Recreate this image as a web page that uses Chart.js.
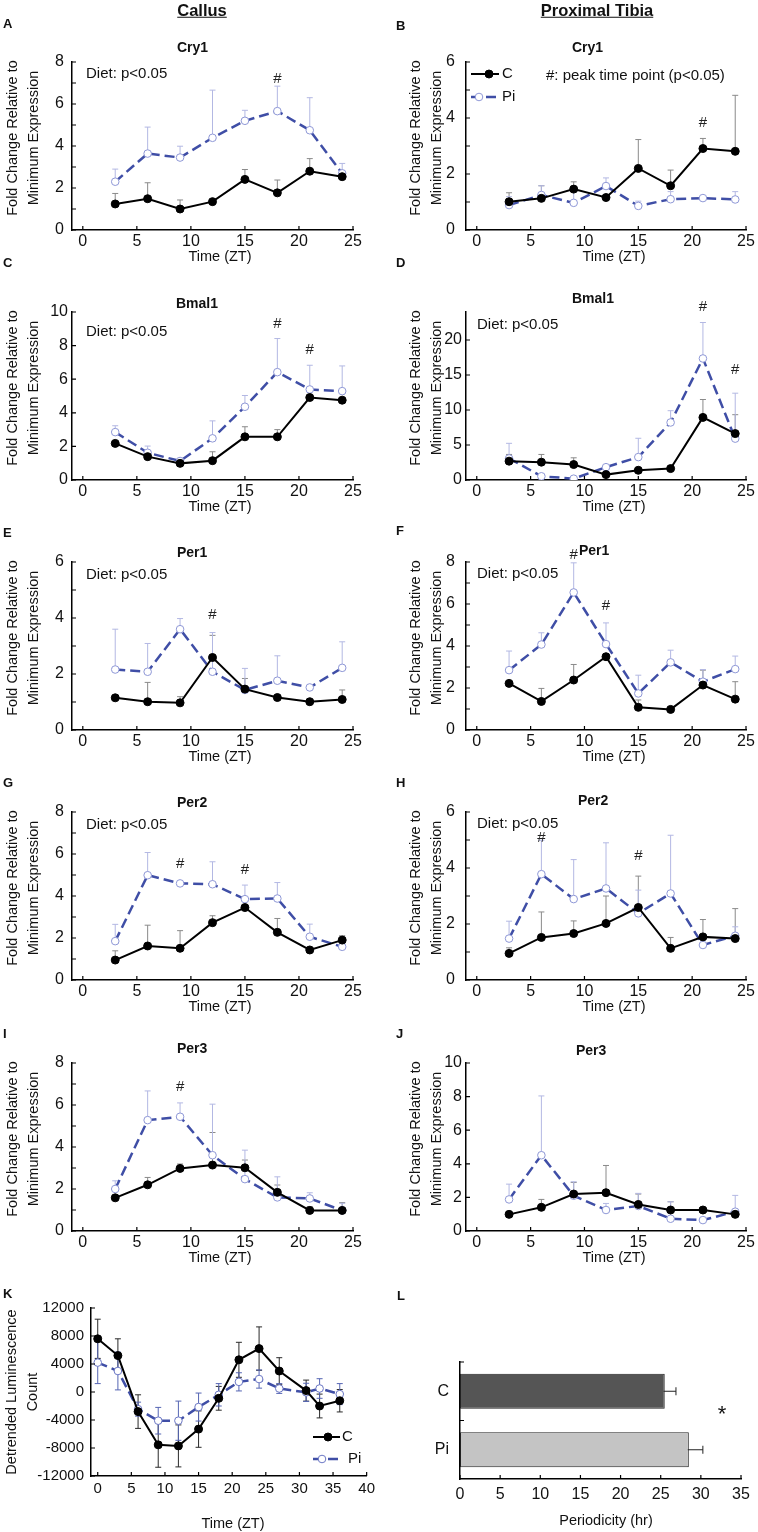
<!DOCTYPE html>
<html>
<head>
<meta charset="utf-8">
<script src="https://cdn.jsdelivr.net/npm/chart.js@4.4.0/dist/chart.umd.min.js"></script>
<style>
  body { margin: 0; background: #fff; width: 758px; height: 1532px; position: relative; overflow: hidden;
         font-family: Arial, "Liberation Sans", Helvetica, sans-serif; color: #111; }
  canvas { position: absolute; }
  .t { position: absolute; white-space: nowrap; line-height: 1; }
  .yt { position: absolute; white-space: nowrap; line-height: 21px; text-align: center; font-size: 14.5px; }
</style>
</head>
<body>
<script>
// ------------------------------------------------------
// data
// ------------------------------------------------------
const times = [3, 6, 9, 12, 15, 18, 21, 24];
const timeTicks = [0, 5, 10, 15, 20, 25];
const ticks6 = [0, 2, 4, 6];
const ticks8 = [0, 2, 4, 6, 8];
const ticks10 = [0, 2, 4, 6, 8, 10];
const ticks24 = [0, 5, 10, 15, 20];
const minor6 = [1, 3, 5];
const minor8 = [1, 3, 5, 7];

// A - Callus Cry1
const aC   = [1.24, 1.49, 1.0, 1.35, 2.41, 1.77, 2.8, 2.54];
const aCe  = [0.5, 0.76, 0.43, 0.1, 0.47, 0.61, 0.6, 0.1];
const aPi  = [2.3, 3.64, 3.45, 4.39, 5.2, 5.66, 4.75, 2.7];
const aPie = [0.6, 1.26, 0.54, 2.27, 0.5, 1.19, 1.55, 0.47];
const aHash = [[18, 7.2]];
// B - Proximal tibia Cry1
const bC   = [1.01, 1.13, 1.46, 1.16, 2.2, 1.58, 2.91, 2.81];
const bCe  = [0.32, 0.45, 0.26, 0.05, 1.03, 0.56, 0.36, 2.0];
const bPi  = [0.89, 1.25, 0.97, 1.57, 0.86, 1.1, 1.14, 1.09];
const bPie = [0.3, 0.33, 0.4, 0.29, 0.17, 0.27, 0.05, 0.28];
const bHash = [[21, 3.82]];
// C - Callus Bmal1
const cC   = [2.18, 1.39, 0.99, 1.15, 2.57, 2.57, 4.91, 4.75];
const cCe  = [0.1, 0.29, 0.1, 0.53, 0.6, 0.43, 0.1, 0.1];
const cPi  = [2.85, 1.62, 1.13, 2.48, 4.36, 6.42, 5.39, 5.29];
const cPie = [0.38, 0.4, 0.1, 1.04, 0.67, 2.0, 1.44, 1.5];
const cHash = [[18, 9.3], [21, 7.72]];
// D - Proximal tibia Bmal1
const dC   = [2.69, 2.55, 2.21, 0.77, 1.39, 1.63, 8.94, 6.63];
const dCe  = [0.96, 1.1, 0.96, 0.2, 0.2, 0.2, 2.56, 2.7];
const dPi  = [3.08, 0.53, 0.19, 1.83, 3.27, 8.22, 17.36, 5.91];
const dPie = [2.16, 0.2, 0.2, 0.2, 2.69, 1.68, 5.14, 6.49];
const dHash = [[21, 24.8], [24, 15.8]];
// E - Callus Per1
const eC   = [1.15, 1.01, 0.97, 2.59, 1.46, 1.16, 1.01, 1.09];
const eCe  = [0.05, 0.69, 0.22, 0.79, 0.38, 0.05, 0.05, 0.34];
const ePi  = [2.16, 2.08, 3.6, 2.08, 1.43, 1.76, 1.52, 2.22];
const ePie = [1.44, 1.01, 0.38, 1.4, 0.77, 0.89, 0.05, 0.93];
const eHash = [[12, 4.1]];
// F - Proximal tibia Per1
const fC   = [2.22, 1.36, 2.38, 3.49, 1.08, 0.98, 2.14, 1.47];
const fCe  = [0.05, 0.62, 0.74, 0.05, 0.35, 0.05, 0.71, 0.83];
const fPi  = [2.85, 4.07, 6.55, 4.09, 1.74, 3.22, 2.3, 2.9];
const fPie = [0.91, 0.56, 1.41, 1.01, 0.87, 0.58, 0.58, 0.62];
const fHash = [[9, 8.32], [12, 5.9]];
// G - Callus Per2
const gC   = [0.95, 1.62, 1.51, 2.73, 3.45, 2.27, 1.43, 1.9];
const gCe  = [0.44, 0.99, 0.84, 0.33, 0.05, 0.66, 0.05, 0.21];
const gPi  = [1.85, 4.99, 4.6, 4.56, 3.85, 3.88, 2.06, 1.58];
const gPie = [0.8, 1.08, 0.05, 1.07, 0.67, 0.76, 0.6, 0.05];
const gHash = [[9, 5.55], [15, 5.23]];
// H - Proximal tibia Per2
const hC   = [0.95, 1.52, 1.66, 2.02, 2.59, 1.13, 1.54, 1.48];
const hCe  = [0.2, 0.91, 0.45, 0.98, 1.12, 0.39, 0.62, 1.07];
const hPi  = [1.48, 3.78, 2.89, 3.27, 2.38, 3.09, 1.25, 1.58];
const hPie = [0.62, 1.21, 1.41, 1.63, 0.83, 2.08, 0.05, 0.32];
const hHash = [[6, 5.08], [15, 4.42]];
// I - Callus Per3
const iC   = [1.58, 2.2, 2.98, 3.14, 3.01, 1.84, 0.98, 0.98];
const iCe  = [0.05, 0.35, 0.21, 1.55, 0.37, 0.35, 0.18, 0.37];
const iPi  = [2.0, 5.28, 5.44, 3.61, 2.47, 1.6, 1.55, 0.98];
const iPie = [0.39, 1.39, 0.66, 2.43, 1.38, 0.98, 0.27, 0.34];
const iHash = [[9, 6.86]];
// J - Proximal tibia Per3
const jC   = [0.99, 1.41, 2.2, 2.28, 1.58, 1.25, 1.25, 0.99];
const jCe  = [0.16, 0.47, 0.69, 1.62, 0.62, 0.49, 0.05, 0.05];
const jPi  = [1.88, 4.51, 2.1, 1.25, 1.49, 0.73, 0.65, 1.15];
const jPie = [0.91, 3.53, 0.83, 0.39, 0.75, 1.01, 0.05, 0.97];

// K - detrended luminescence
const kTimes = [0, 3, 6, 9, 12, 15, 18, 21, 24, 27, 31, 33, 36];
const kC   = [7600, 5200, -2800, -7550, -7700, -5300, -900, 4600, 6200, 3000, 200, -2000, -1250];
const kCe  = [2800, 2400, 2400, 3200, 3000, 2600, 1700, 2500, 3100, 1900, 1500, 1700, 1600];
const kPi  = [4200, 3000, -2450, -4100, -4100, -2150, -400, 1450, 1850, 500, -50, 500, -300];
const kPie = [3000, 2700, 1000, 1900, 2800, 2000, 1600, 1300, 1300, 700, 1300, 1400, 1500];
const kXTicks = [0, 5, 10, 15, 20, 25, 30, 35, 40];
const kYTicks = [-12000, -8000, -4000, 0, 4000, 8000, 12000];

// L - periodicity
const lCats = ['C', 'Pi'];
const lVals = [25.5, 28.5];
const lErr  = [1.4, 1.75];
const lXTicks = [0, 5, 10, 15, 20, 25, 30, 35];

// ------------------------------------------------------
// helpers
// ------------------------------------------------------
Chart.defaults.font.family = 'Arial, "Liberation Sans", Helvetica, sans-serif';
Chart.defaults.color = '#111';
Chart.defaults.animation = false;

const PI_LINE = '#3f4ea6';
const PI_MARK = '#8e97d6';
const C_ERR = '#8a8a8a';
const PI_ERR = '#b3b8e3';

const COL_X = [0, 379];
const ROW_Y = [0, 250, 500, 750, 1001];
const extras = {};

function addText(str, x, y, o = {}) {
  const d = document.createElement('div');
  d.className = 't';
  d.textContent = str;
  d.style.left = x + 'px';
  d.style.top = y + 'px';
  d.style.fontSize = (o.size || 15) + 'px';
  if (o.bold) d.style.fontWeight = 'bold';
  if (o.underline) d.style.textDecoration = 'underline';
  d.style.transform = 'translate(' + (o.center ? '-50%' : '0') + ',-50%)';
  document.body.appendChild(d);
}

function addYTitle(lines, x, y) {
  const d = document.createElement('div');
  d.className = 'yt';
  d.innerHTML = lines.join('<br>');
  d.style.left = x + 'px';
  d.style.top = y + 'px';
  d.style.transform = 'translate(-50%,-50%) rotate(-90deg)';
  document.body.appendChild(d);
}

function makeCanvas(id, left, top, w, h) {
  const c = document.createElement('canvas');
  c.id = id;
  c.width = w;
  c.height = h;
  c.style.left = left + 'px';
  c.style.top = top + 'px';
  c.style.width = w + 'px';
  c.style.height = h + 'px';
  document.body.appendChild(c);
  return c;
}

function axis(min, max, tickVals, size, fontSize, pad, horiz) {
  return {
    type: 'linear', min, max,
    grid: { display: false, drawTicks: false },
    border: { display: true, color: '#000', width: 1.5 },
    ticks: { font: { size: fontSize }, padding: pad, maxRotation: 0, autoSkip: false, callback: v => String(v) },
    afterBuildTicks: s => { s.ticks = tickVals.map(v => ({ value: v })); },
    afterFit: s => { if (horiz) s.height = size; else s.width = size; },
  };
}

function series(xs, ys, errs, isPi, k) {
  return {
    data: xs.map((x, i) => ({ x, y: ys[i] })),
    errors: errs,
    symmetric: !!k,
    errColor: isPi ? (k ? '#5565b3' : PI_ERR) : (k ? '#2a2a2a' : C_ERR),
    borderColor: isPi ? PI_LINE : '#000',
    borderWidth: isPi ? 2.5 : 2,
    borderDash: isPi ? [10, 5] : [],
    pointRadius: isPi ? 3.8 : 4,
    pointBackgroundColor: isPi ? '#fff' : '#000',
    pointBorderColor: isPi ? (k ? '#6a76c4' : PI_MARK) : '#000',
    pointBorderWidth: 1,
    tension: 0,
  };
}

// error bars, inward ticks, # marks, legends
const panelMarks = {
  id: 'panelMarks',
  beforeDatasetsDraw(chart) {
    const ctx = chart.ctx;
    const horizBar = chart.options.indexAxis === 'y';
    chart.data.datasets.forEach((ds, i) => {
      if (!ds.errors) return;
      const meta = chart.getDatasetMeta(i);
      ctx.save();
      ctx.strokeStyle = ds.errColor;
      ctx.lineWidth = 1;
      ctx.beginPath();
      ds.errors.forEach((e, j) => {
        if (!e) return;
        if (horizBar) {
          const el = meta.data[j];
          const xs = chart.scales.x;
          const x0 = xs.getPixelForValue(ds.data[j] - e);
          const x1 = xs.getPixelForValue(ds.data[j] + e);
          ctx.moveTo(x0, el.y); ctx.lineTo(x1, el.y);
          ctx.moveTo(x0, el.y - 4); ctx.lineTo(x0, el.y + 4);
          ctx.moveTo(x1, el.y - 4); ctx.lineTo(x1, el.y + 4);
        } else {
          const pt = ds.data[j];
          const px = chart.scales.x.getPixelForValue(pt.x);
          const ys = chart.scales.y;
          const top = ys.getPixelForValue(pt.y + e);
          const bot = ds.symmetric ? ys.getPixelForValue(pt.y - e) : ys.getPixelForValue(pt.y);
          ctx.moveTo(px, bot); ctx.lineTo(px, top);
          ctx.moveTo(px - 3, top); ctx.lineTo(px + 3, top);
          if (ds.symmetric) { ctx.moveTo(px - 3, bot); ctx.lineTo(px + 3, bot); }
        }
      });
      ctx.stroke();
      ctx.restore();
    });
  },
  afterDraw(chart) {
    const ctx = chart.ctx;
    const a = chart.chartArea;
    const ex = extras[chart.canvas.id] || {};
    const xs = chart.scales.x, ys = chart.scales.y;
    ctx.save();
    ctx.strokeStyle = '#000';
    ctx.lineWidth = 1.2;
    ctx.beginPath();
    xs.ticks.forEach(t => {
      const p = xs.getPixelForValue(t.value);
      ctx.moveTo(p, a.bottom); ctx.lineTo(p, a.bottom - 4);
    });
    if (ys.type === 'category') {
      // ticks on category boundaries
      const marks = [a.top];
      for (let i = 1; i < ys.ticks.length; i++) {
        marks.push((ys.getPixelForValue(i - 1) + ys.getPixelForValue(i)) / 2);
      }
      marks.forEach(p => { ctx.moveTo(a.left, p); ctx.lineTo(a.left + 4, p); });
    } else {
      ys.ticks.map(t => t.value).concat(ex.minorY || []).forEach(v => {
        const p = ys.getPixelForValue(v);
        ctx.moveTo(a.left, p); ctx.lineTo(a.left + 4, p);
      });
    }
    ctx.stroke();

    // significance marks
    ctx.fillStyle = '#222';
    ctx.font = '15px Arial, "Liberation Sans", sans-serif';
    ctx.textAlign = 'center';
    ctx.textBaseline = 'middle';
    (ex.hashes || []).forEach(h => {
      ctx.fillText('#', xs.getPixelForValue(h[0]), ys.getPixelForValue(h[1]));
    });

    // legend
    (ex.legend || []).forEach(item => {
      const ds = chart.data.datasets[item.ds];
      ctx.strokeStyle = ds.borderColor;
      ctx.lineWidth = ds.borderWidth;
      ctx.setLineDash(ds.borderDash);
      ctx.beginPath();
      ctx.moveTo(item.x0, item.y); ctx.lineTo(item.x1, item.y);
      ctx.stroke();
      ctx.setLineDash([]);
      ctx.beginPath();
      ctx.arc(item.mx, item.y, ds.pointRadius, 0, Math.PI * 2);
      ctx.fillStyle = ds.pointBackgroundColor;
      ctx.fill();
      ctx.lineWidth = 1;
      ctx.strokeStyle = ds.pointBorderColor;
      ctx.stroke();
      ctx.fillStyle = '#111';
      ctx.textAlign = 'left';
      ctx.font = '15px Arial, "Liberation Sans", sans-serif';
      ctx.fillText(item.label, item.tx, item.y);
    });
    ctx.restore();
  },
};

// ------------------------------------------------------
// @Line panels A-J
// ------------------------------------------------------
function linePanel(p) {
  const W = 379, H = 265;
  const left = p.col ? 87 : 72;
  const right = p.col ? 367 : 353;
  const cv = makeCanvas('panel' + p.id, COL_X[p.col], ROW_Y[p.row], W, H);
  extras[cv.id] = { minorY: p.minor, hashes: p.hashes, legend: p.legend };
  new Chart(cv, {
    type: 'line',
    data: { datasets: [series(times, p.c, p.ce, false), series(times, p.pi, p.pie, true)] },
    options: {
      responsive: false,
      events: [],
      layout: { padding: { left: 0, right: W - right, top: 62, bottom: 0 } },
      plugins: { legend: { display: false }, tooltip: { enabled: false } },
      scales: {
        x: axis(-1, 25, timeTicks, H - 230, 16, 2, true),
        y: axis(0, p.yMax, p.yTicks, left, 16, p.yPad, false),
      },
    },
    plugins: [panelMarks],
  });
}

const panels = [
  { id: 'A', col: 0, row: 0, c: aC, ce: aCe, pi: aPi, pie: aPie, yMax: 8, yTicks: ticks8, minor: minor8, yPad: 8, hashes: aHash },
  { id: 'B', col: 1, row: 0, c: bC, ce: bCe, pi: bPi, pie: bPie, yMax: 6, yTicks: ticks6, minor: minor6, yPad: 11, hashes: bHash,
    legend: [{ ds: 0, label: 'C', x0: 92, x1: 120, mx: 110, tx: 123, y: 74 },
             { ds: 1, label: 'Pi', x0: 92, x1: 118, mx: 100, tx: 123, y: 97 }] },
  { id: 'C', col: 0, row: 1, c: cC, ce: cCe, pi: cPi, pie: cPie, yMax: 10, yTicks: ticks10, minor: [], yPad: 4, hashes: cHash },
  { id: 'D', col: 1, row: 1, c: dC, ce: dCe, pi: dPi, pie: dPie, yMax: 24, yTicks: ticks24, minor: [], yPad: 4, hashes: dHash },
  { id: 'E', col: 0, row: 2, c: eC, ce: eCe, pi: ePi, pie: ePie, yMax: 6, yTicks: ticks6, minor: minor6, yPad: 8, hashes: eHash },
  { id: 'F', col: 1, row: 2, c: fC, ce: fCe, pi: fPi, pie: fPie, yMax: 8, yTicks: ticks8, minor: minor8, yPad: 11, hashes: fHash },
  { id: 'G', col: 0, row: 3, c: gC, ce: gCe, pi: gPi, pie: gPie, yMax: 8, yTicks: ticks8, minor: minor8, yPad: 8, hashes: gHash },
  { id: 'H', col: 1, row: 3, c: hC, ce: hCe, pi: hPi, pie: hPie, yMax: 6, yTicks: ticks6, minor: minor6, yPad: 11, hashes: hHash },
  { id: 'I', col: 0, row: 4, c: iC, ce: iCe, pi: iPi, pie: iPie, yMax: 8, yTicks: ticks8, minor: minor8, yPad: 8, hashes: iHash },
  { id: 'J', col: 1, row: 4, c: jC, ce: jCe, pi: jPi, pie: jPie, yMax: 10, yTicks: ticks10, minor: [], yPad: 4, hashes: [] },
];
panels.forEach(linePanel);

// ------------------------------------------------------
// @K luminescence
// ------------------------------------------------------
const kCanvas = makeCanvas('panelK', 0, 1250, 379, 282);
extras.panelK = {
  legend: [{ ds: 0, label: 'C', x0: 313, x1: 340, mx: 328, tx: 342, y: 187 },
           { ds: 1, label: 'Pi', x0: 313, x1: 338, mx: 322, tx: 348, y: 209 }],
};
new Chart(kCanvas, {
  type: 'line',
  data: { datasets: [series(kTimes, kC, kCe, false, true), series(kTimes, kPi, kPie, true, true)] },
  options: {
    responsive: false,
    events: [],
    layout: { padding: { left: 0, right: 12, top: 58, bottom: 0 } },
    plugins: { legend: { display: false }, tooltip: { enabled: false } },
    scales: {
      x: axis(-1, 40, kXTicks, 56, 15, 4, true),
      y: axis(-12000, 12000, kYTicks, 91, 15, 7, false),
    },
  },
  plugins: [panelMarks],
});

// ------------------------------------------------------
// @L periodicity bars
// ------------------------------------------------------
const lCanvas = makeCanvas('panelL', 379, 1250, 379, 282);
new Chart(lCanvas, {
  type: 'bar',
  data: {
    labels: lCats,
    datasets: [{
      data: lVals,
      errors: lErr,
      errColor: '#222',
      backgroundColor: ['#555555', '#c4c4c4'],
      borderColor: '#222',
      borderWidth: 1,
      borderSkipped: false,
      barPercentage: 0.6,
      categoryPercentage: 1,
    }],
  },
  options: {
    indexAxis: 'y',
    responsive: false,
    events: [],
    layout: { padding: { left: 0, right: 17, top: 112, bottom: 0 } },
    plugins: { legend: { display: false }, tooltip: { enabled: false } },
    scales: {
      x: axis(0, 35, lXTicks, 53, 16, 6, true),
      y: {
        type: 'category',
        grid: { display: false, drawTicks: false },
        border: { display: true, color: '#000', width: 1.5 },
        ticks: { font: { size: 16 }, padding: 11 },
        afterFit: s => { s.width = 81; },
      },
    },
  },
  plugins: [panelMarks],
});

// ------------------------------------------------------
// @Texts
// ------------------------------------------------------
addText('Callus', 202, 10, { size: 16.5, bold: true, underline: true, center: true });
addText('Proximal Tibia', 597, 10, { size: 16.5, bold: true, underline: true, center: true });

const letters = [['A', 3, 23], ['B', 396, 25], ['C', 3, 262], ['D', 396, 262], ['E', 3, 532], ['F', 396, 530],
                 ['G', 3, 782], ['H', 396, 782], ['I', 3, 1033], ['J', 396, 1033], ['K', 3, 1293], ['L', 397, 1295]];
letters.forEach(l => addText(l[0], l[1], l[2], { size: 13, bold: true }));

const titles = [['Cry1', 177, 47], ['Cry1', 572, 47], ['Bmal1', 176, 303], ['Bmal1', 572, 298], ['Per1', 177, 552],
                ['Per1', 579, 550], ['Per2', 177, 802], ['Per2', 578, 800], ['Per3', 177, 1048], ['Per3', 576, 1050]];
titles.forEach(t => addText(t[0], t[1], t[2], { size: 14, bold: true }));

[[86, 72], [86, 330], [477, 323], [86, 573], [477, 572], [86, 823], [477, 822]]
  .forEach(d => addText('Diet: p<0.05', d[0], d[1], { size: 15 }));
addText('#: peak time point (p<0.05)', 546, 74, { size: 15 });

ROW_Y.forEach(y => {
  addYTitle(['Fold Change Relative to', 'Minimum Expression'], 23, y + 138);
  addYTitle(['Fold Change Relative to', 'Minimum Expression'], 426, y + 138);
  addText('Time (ZT)', 220, y + 256, { size: 14.5, center: true });
  addText('Time (ZT)', 614, y + 256, { size: 14.5, center: true });
});
addYTitle(['Detrended Luminescence', 'Count'], 22, 1392);
addText('Time (ZT)', 233, 1523, { size: 14.5, center: true });
addText('Periodicity (hr)', 606, 1520, { size: 14.5, center: true });
addText('*', 722, 1414, { size: 22, center: true });
</script>
</body>
</html>
